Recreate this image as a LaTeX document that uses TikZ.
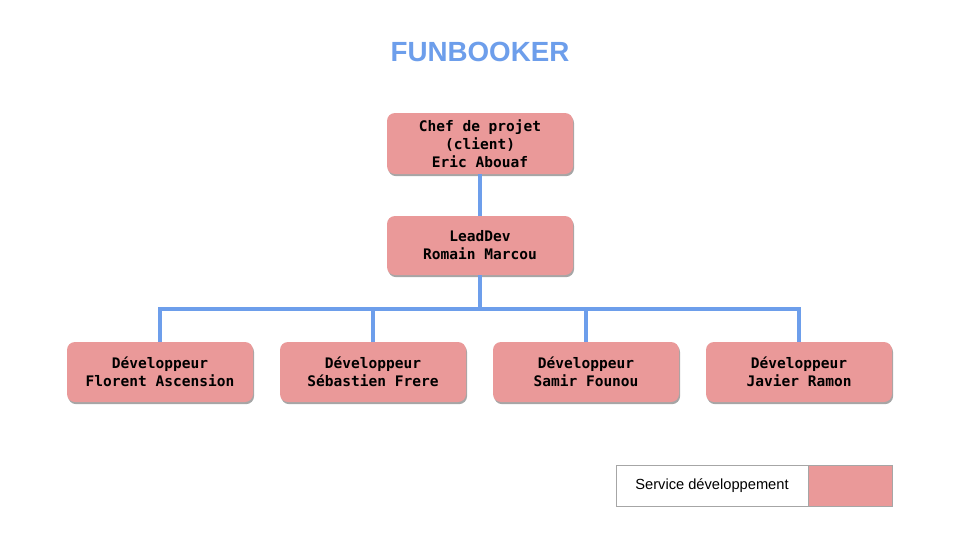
\documentclass[tikz,border=0pt]{standalone}
\usepackage{fontspec}
\setmainfont{Liberation Sans}
\newfontfamily\monob{DejaVu Sans Mono}
\usetikzlibrary{shadows}
\definecolor{boxpink}{HTML}{EA9999}
\definecolor{linkblue}{HTML}{6D9EEB}
\definecolor{legendgray}{HTML}{A6A6A6}
\begin{document}
\begin{tikzpicture}[x=0.75pt,y=-0.75pt,
  orgbox/.style={draw=none, fill=boxpink, rounded corners=6pt,
    minimum width=139.5pt, minimum height=45pt, align=center,
    font=\monob\bfseries\fontsize{10.9}{13.5}\selectfont, inner sep=2pt,
    drop shadow={shadow xshift=0.8pt, shadow yshift=-1.6pt, opacity=0.35, fill=black}},
  link/.style={draw=linkblue, line width=2.3pt},
  legendcell/.style={draw=legendgray, line width=0.6pt, minimum height=30.75pt, inner sep=0pt}
]
\useasboundingbox (0,0) rectangle (960,540);
\fill[white] (0,0) rectangle (960,540);

\node[text=linkblue, font=\fontsize{20.8}{24}\selectfont\bfseries] (title) at (480,52) {FUNBOOKER};

\node[orgbox, minimum height=45.75pt] (chef) at (480,143.5) {Chef de projet\\(client)\\Eric Abouaf};
\node[orgbox, minimum height=44.25pt] (lead) at (480,245.5) {LeadDev\\Romain Marcou};

\node[orgbox] (d1) at (160,372) {Développeur\\Florent Ascension};
\node[orgbox] (d2) at (373,372) {Développeur\\Sébastien Frere};
\node[orgbox] (d3) at (586,372) {Développeur\\Samir Founou};
\node[orgbox] (d4) at (799,372) {Développeur\\Javier Ramon};

\coordinate (bus) at (480,309);

\draw[link] (chef.south) -- (lead.north);
\draw[link] (lead.south) -- (bus);
\draw[link, line join=miter] (d1.north) |- (bus) -| (d4.north);
\draw[link] (d2.north) -- (d2.north |- bus);
\draw[link] (d3.north) -- (d3.north |- bus);

\node[legendcell, fill=white, minimum width=144pt, font=\fontsize{11}{13}\selectfont] (legtext) at (712,485.5) {Service développement};
\node[legendcell, fill=boxpink, minimum width=63pt, anchor=west] (legcolor) at (legtext.east) {};
\end{tikzpicture}
\end{document}
